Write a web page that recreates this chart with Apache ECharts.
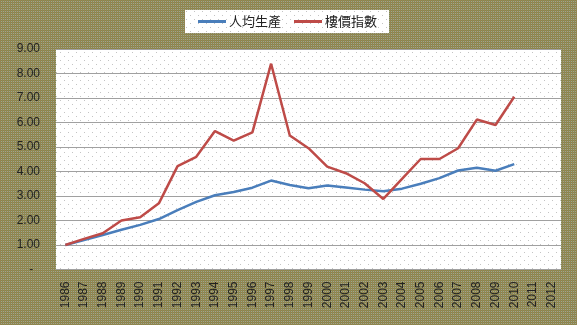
<!DOCTYPE html>
<html>
<head>
<meta charset="utf-8">
<script src="https://cdn.jsdelivr.net/npm/echarts@6/dist/echarts.min.js"></script>
<style>
html,body{margin:0;padding:0;background:#938e5f;}
#chart{width:577px;height:325px;}
</style>
</head>
<body>
<div id="chart"></div>
<script>
const years = ['1986','1987','1988','1989','1990','1991','1992','1993','1994','1995','1996','1997','1998','1999','2000','2001','2002','2003','2004','2005','2006','2007','2008','2009','2010','2011','2012'];
const perCapita = [1.00,1.20,1.41,1.62,1.82,2.06,2.42,2.76,3.03,3.16,3.34,3.63,3.45,3.32,3.43,3.35,3.26,3.19,3.30,3.50,3.73,4.04,4.15,4.03,4.30];
const priceIndex = [1.00,1.25,1.48,2.00,2.13,2.70,4.22,4.60,5.65,5.26,5.60,8.40,5.47,4.95,4.20,3.93,3.52,2.88,3.70,4.51,4.51,4.95,6.12,5.90,7.05];
const seriesNames = ['人均生產','樓價指數'];

function makePattern(w, h, draw) {
  const c = document.createElement('canvas');
  c.width = w; c.height = h;
  const ctx = c.getContext('2d');
  draw(ctx);
  return {image: c, repeat: 'repeat'};
}
const bgPattern = makePattern(2, 2, ctx => {
  const cols = [['#9c8050','#7e8c4c'],['#8a8a58','#a8a088']];
  for (let y = 0; y < 2; y++) for (let x = 0; x < 2; x++) {
    ctx.fillStyle = cols[y][x]; ctx.fillRect(x, y, 1, 1);
  }
});
const dotPattern = () => makePattern(8, 8, ctx => {
  ctx.fillStyle = '#ffffff'; ctx.fillRect(0, 0, 8, 8);
  ctx.fillStyle = '#c4c4c4';
  ctx.fillRect(0, 0, 1, 1); ctx.fillRect(4, 4, 1, 1);
});

const chart = echarts.init(document.getElementById('chart'));
chart.setOption({
  backgroundColor: bgPattern,
  animation: false,
  textStyle: {fontFamily: 'Liberation Sans, "Noto Sans CJK TC"'},
  legend: {
    left: 185, top: 10,
    padding: [5, 12, 5, 13],
    icon: 'rect',
    itemWidth: 28, itemHeight: 3, itemGap: 13,
    backgroundColor: dotPattern(),
    textStyle: {fontFamily: '"Noto Sans CJK TC"', fontSize: 13, color: '#222', padding: [0, 0, 0, -2]},
    data: seriesNames
  },
  grid: {left: 56, top: 49, width: 505, height: 220.5, show: true, backgroundColor: dotPattern(), borderWidth: 0},
  xAxis: {
    type: 'category', data: years, boundaryGap: true,
    axisLine: {show: false}, axisTick: {show: false},
    axisLabel: {rotate: 90, interval: 0, margin: 12, fontSize: 12, color: '#222', fontFamily: 'Liberation Sans'}
  },
  yAxis: {
    type: 'value', min: 0, max: 9, interval: 1,
    axisLine: {show: false}, axisTick: {show: false},
    splitLine: {lineStyle: {color: '#a0a0a0', width: 1}},
    axisLabel: {margin: 16, fontSize: 12, color: '#222', fontFamily: 'Liberation Sans',
      formatter: v => v === 0 ? '-  ' : v.toFixed(2)}
  },
  series: [
    {name: seriesNames[0], type: 'line', data: perCapita, symbol: 'none', lineStyle: {color: '#4a7ebb', width: 2.5}, itemStyle: {color: '#4a7ebb'}},
    {name: seriesNames[1], type: 'line', data: priceIndex, symbol: 'none', lineStyle: {color: '#be4b48', width: 2.5}, itemStyle: {color: '#be4b48'}}
  ]
});
</script>
</body>
</html>
